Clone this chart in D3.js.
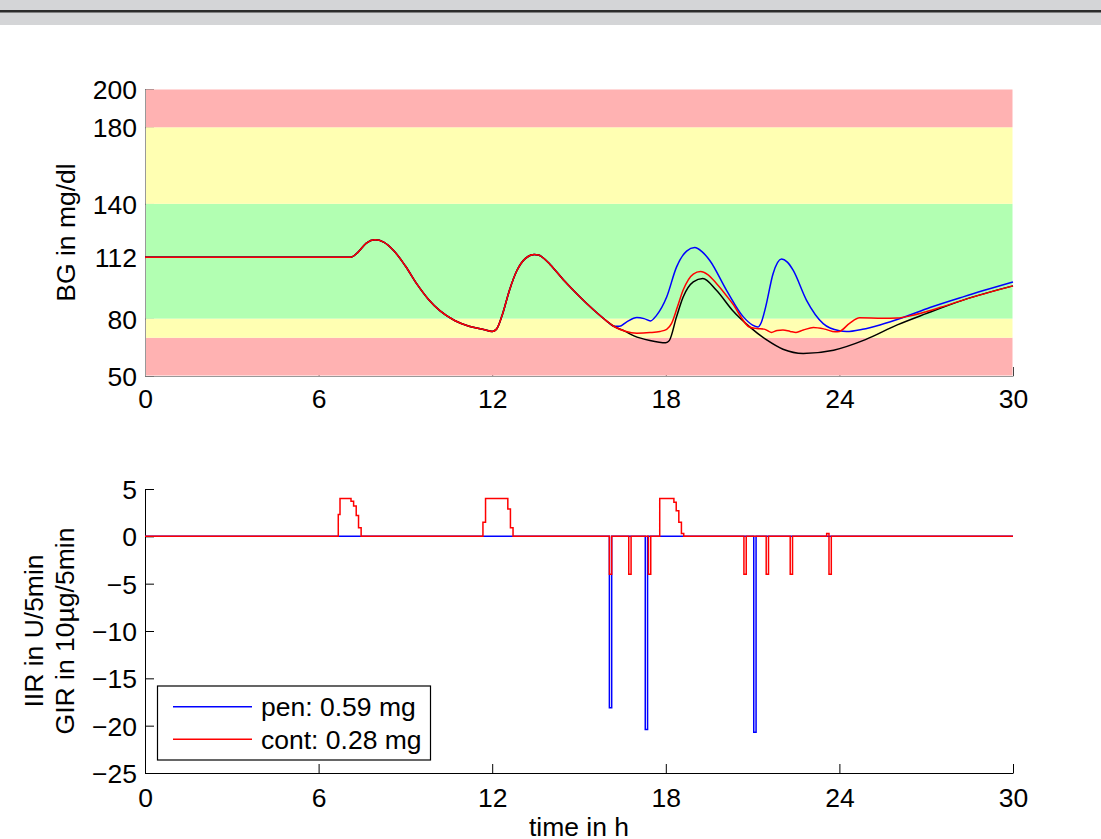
<!DOCTYPE html>
<html>
<head>
<meta charset="utf-8">
<script src="https://cdn.jsdelivr.net/npm/d3@7"></script>
<style>
  body { margin: 0; background: #fff; }
  text { font-family: "Liberation Sans", Arial, Helvetica, sans-serif; font-size: 26.5px; fill: #000; }
</style>
</head>
<body>
<svg id="chart" width="1101" height="839"></svg>
<script>
// blood glucose, shared part of all three runs (t in h, mg/dl)
const bgCommon = [[0,112],[7.1,112],[7.35,114.5],[7.65,119.5],[7.95,121.2],[8.25,120],[8.6,115.5],[9.0,107.5],
  [9.4,98],[9.8,90],[10.2,84],[10.7,79],[11.2,76],[11.7,74.3],[12.0,73.3],[12.15,74.5],[12.35,82],[12.6,95],
  [12.85,105],[13.15,111.5],[13.45,113.5],[13.6,113.2],[13.8,111.3],[14.0,108.3],[14.5,99.6],[15.0,91.8],
  [15.5,84.6],[16.0,78.2],[16.2,76]];
// after the split
const bgNoCtrl = [[16.6,73.3],[16.9,71],[17.45,68.6],[18.0,67.4],[18.12,68.5],[18.37,80.9],[18.6,91.3],[18.95,99.2],
  [19.28,101],[19.75,94.8],[20.3,84.4],[20.9,75.7],[21.5,68.7],[22.05,64.0],[22.75,61.8],[23.8,63.5],[24.9,69],
  [26.0,76.7],[27.0,82.6],[28.3,89.8],[30,97.1]];
const bgCont = [[16.6,73.4],[17.0,72.4],[17.45,72.7],[17.8,73.3],[18.03,74.4],[18.2,77.5],[18.4,86],[18.6,94.9],
  [18.95,103.3],[19.2,104.6],[19.45,103],[19.75,98.4],[20.3,88],[20.9,75.5],[21.15,74.8],[21.4,74.5],[21.65,72.8],
  [21.85,73.8],[22.05,74],[22.3,73.3],[22.5,72.8],[22.75,74],[23.1,75.4],[23.5,74.5],[23.85,73.1],[24.0,73.3],
  [24.35,77.5],[24.7,80.4],[25.5,80.2],[26.0,80.3],[26.5,81.6],[27.0,83.6],[27.5,85.9],[28.3,89.8],[30,97.1]];
const bgPen = [[16.4,76.0],[16.64,78.2],[17.0,80.6],[17.25,80],[17.47,78.8],[17.68,81.7],[18.03,91.3],[18.37,106.9],
  [18.72,115.3],[19.0,117.1],[19.25,115],[19.52,110.4],[20.1,94.8],[20.68,80.9],[21.0,76.6],[21.18,75.6],[21.3,78],
  [21.45,86],[21.71,103.6],[22.0,111.1],[22.2,109.5],[22.4,105.3],[22.86,89.7],[23.44,77.4],[24.0,73.6],[24.25,73.2],
  [24.8,74.4],[25.4,76.7],[26.15,80.3],[27.13,85.8],[28.3,91.5],[30,99.1]];

const bandLo = [50, 70, 80, 140, 180];
const bandHi = [70, 80, 140, 180, 200];
const bandColor = ["#ffb2b2", "#ffffb2", "#b2ffb2", "#ffffb2", "#ffb2b2"];

const bgTicks = [50, 80, 112, 140, 180, 200];
const timeTicks = [0, 6, 12, 18, 24, 30];
const rateTicks = [5, 0, -5, -10, -15, -20, -25];

// infusion rates, step signals
const penRate = [[0,0],[16.05,-18.1],[16.13,0],[17.29,-20.4],[17.37,0],[21.04,-20.7],[21.12,0],[30,0]];
const contRate = [[0,0],[6.68,2.3],[6.74,4],[7.12,3.7],[7.21,3.2],[7.30,2.2],[7.38,0.9],[7.47,0],
  [11.68,1.5],[11.77,4],[12.54,2.9],[12.63,0.9],[12.72,0],
  [16.05,-4],[16.13,0],[16.72,-4],[16.8,0],[17.4,-4],[17.48,0],
  [17.79,4],[18.28,3.6],[18.36,2.7],[18.45,1.5],[18.54,0.3],[18.62,0],
  [20.7,-4],[20.78,0],[21.47,-4],[21.55,0],[22.3,-4],[22.38,0],[23.56,0.3],[23.64,-4],[23.72,0],[30,0]];

const legendLabels = ["pen: 0.59 mg", "cont: 0.28 mg"];
const legendColors = ["#0000ff", "#ff0000"];

const svg = d3.select("#chart");

// window strip at the top
svg.append("rect").attr("x", 0).attr("y", 0).attr("width", 1101).attr("height", 25).attr("fill", "#d4d5d7");
svg.append("rect").attr("x", 0).attr("y", 10).attr("width", 1101).attr("height", 2.5).attr("fill", "#2b2b2b");

const x = d3.scaleLinear().domain([0, 30]).range([145, 1013]);
const yBG = d3.scaleLinear().domain([50, 200]).range([376, 89]);
const yRate = d3.scaleLinear().domain([-25, 5]).range([773, 489]);

// ---- upper panel
const upper = svg.append("g");

upper.append("g")
  .attr("transform", "translate(0,376)")
  .call(d3.axisBottom(x).tickValues(timeTicks).tickSizeInner(-9).tickSizeOuter(0).tickPadding(13.5))
  .call(g => g.select(".domain").attr("stroke", "#999"))
  .call(g => g.selectAll(".tick line").attr("stroke", "#444"))
  .call(g => g.selectAll("text").attr("font-size", null).attr("font-family", null));

upper.append("g")
  .attr("transform", "translate(145,0)")
  .call(d3.axisLeft(yBG).tickValues(bgTicks).tickSizeInner(-9).tickSizeOuter(0).tickPadding(8))
  .call(g => g.select(".domain").attr("stroke", "#999"))
  .call(g => g.selectAll(".tick line").attr("stroke", "#777"))
  .call(g => g.selectAll("text").attr("font-size", null).attr("font-family", null).attr("dy", "0.36em"));

upper.selectAll("rect.band")
  .data(bandLo)
  .join("rect")
  .attr("class", "band")
  .attr("x", x(0) + 1)
  .attr("width", x(30) - x(0) - 1.5)
  .attr("y", (d, i) => yBG(bandHi[i]) + (i === 4 ? 0.5 : 0))
  .attr("height", (d, i) => yBG(d) - yBG(bandHi[i]) - (i === 0 ? 0.5 : 0) - (i === 4 ? 0.5 : 0))
  .attr("fill", (d, i) => bandColor[i]);

const bgLine = d3.line().x(d => x(d[0])).y(d => yBG(d[1])).curve(d3.curveMonotoneX);

[[bgCommon.concat(bgPen), "#0000ff"],
 [bgCommon.concat(bgNoCtrl), "#000000"],
 [bgCommon.concat(bgCont), "#ff0000"]].forEach(([pts, col]) => {
  upper.append("path")
    .attr("d", bgLine(pts))
    .attr("fill", "none")
    .attr("stroke", col)
    .attr("stroke-width", 1.5);
});

upper.append("text")
  .attr("transform", "translate(75,232.5) rotate(-90)")
  .attr("text-anchor", "middle")
  .text("BG in mg/dl");

// ---- lower panel
const lower = svg.append("g");

lower.append("g")
  .attr("transform", "translate(0,773)")
  .call(d3.axisBottom(x).tickValues(timeTicks).tickSizeInner(-9).tickSizeOuter(0).tickPadding(15))
  .call(g => g.selectAll("text").attr("font-size", null).attr("font-family", null));

lower.append("g")
  .attr("transform", "translate(145,0)")
  .call(d3.axisLeft(yRate).tickValues(rateTicks).tickSizeInner(-9).tickSizeOuter(0).tickPadding(8)
    .tickFormat(d => d < 0 ? "\u2212" + Math.abs(d) : String(d)))
  .call(g => g.selectAll("text").attr("font-size", null).attr("font-family", null).attr("dy", "0.36em"));

const rateLine = d3.line().x(d => x(d[0])).y(d => yRate(d[1])).curve(d3.curveStepAfter);

lower.append("path")
  .attr("d", rateLine(penRate))
  .attr("fill", "none")
  .attr("stroke", "#0000ff")
  .attr("stroke-width", 1.5);

lower.append("path")
  .attr("d", rateLine(contRate))
  .attr("fill", "none")
  .attr("stroke", "#ff0000")
  .attr("stroke-width", 1.5);

lower.append("text")
  .attr("transform", "translate(43,631) rotate(-90)")
  .attr("text-anchor", "middle")
  .text("IIR in U/5min");
lower.append("text")
  .attr("transform", "translate(74,631) rotate(-90)")
  .attr("text-anchor", "middle")
  .text("GIR in 10\u00b5g/5min");

lower.append("text")
  .attr("x", (x(0) + x(30)) / 2)
  .attr("y", 836)
  .attr("text-anchor", "middle")
  .text("time in h");

// legend
const legend = lower.append("g").attr("transform", "translate(157.5,686)");
legend.append("rect")
  .attr("width", 273).attr("height", 74)
  .attr("fill", "#fff").attr("stroke", "#000").attr("stroke-width", 1.2);
legendLabels.forEach((lab, i) => {
  const yy = 20.7 + i * 32.6;
  legend.append("line")
    .attr("x1", 15.5).attr("x2", 94.5).attr("y1", yy).attr("y2", yy)
    .attr("stroke", legendColors[i]).attr("stroke-width", 1.5);
  legend.append("text")
    .attr("x", 103.5).attr("y", yy + 9.5)
    .text(lab);
});
</script>
</body>
</html>
